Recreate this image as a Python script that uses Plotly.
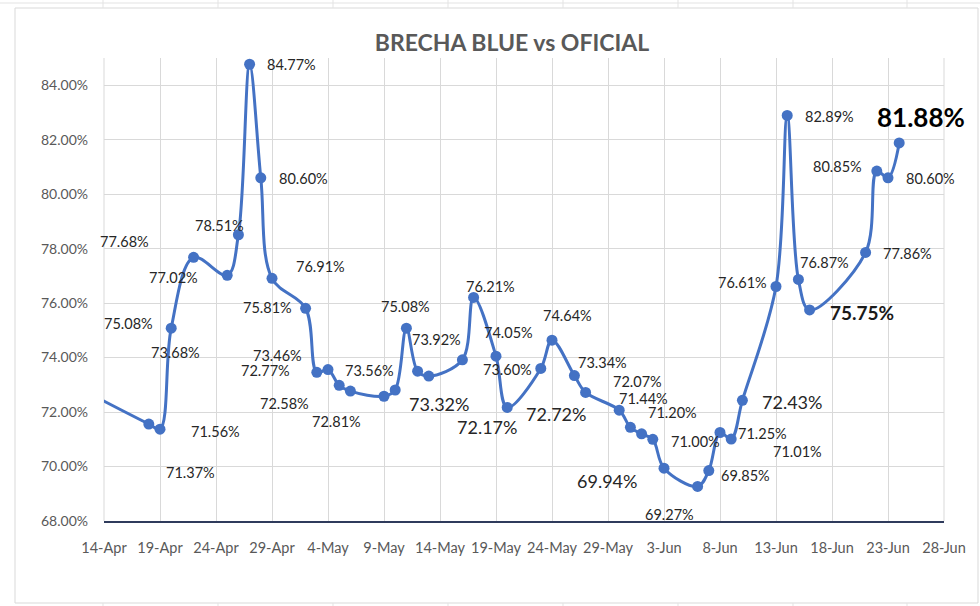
import pandas as pd
import plotly.graph_objects as go

# ---------------- data ----------------
dates = ["2022-04-08", "2022-04-18", "2022-04-19", "2022-04-20", "2022-04-22",
         "2022-04-25", "2022-04-26", "2022-04-27", "2022-04-28", "2022-04-29",
         "2022-05-02", "2022-05-03", "2022-05-04", "2022-05-05", "2022-05-06",
         "2022-05-09", "2022-05-10", "2022-05-11", "2022-05-12", "2022-05-13",
         "2022-05-16", "2022-05-17", "2022-05-19", "2022-05-20", "2022-05-23",
         "2022-05-24", "2022-05-26", "2022-05-27", "2022-05-30", "2022-05-31",
         "2022-06-01", "2022-06-02", "2022-06-03", "2022-06-06", "2022-06-07",
         "2022-06-08", "2022-06-09", "2022-06-10", "2022-06-13", "2022-06-14",
         "2022-06-15", "2022-06-16", "2022-06-21", "2022-06-22", "2022-06-23",
         "2022-06-24"]
brecha = [73.68, 71.56, 71.37, 75.08, 77.68,
          77.02, 78.51, 84.77, 80.60, 76.91,
          75.81, 73.46, 73.56, 72.98, 72.77,
          72.58, 72.81, 75.08, 73.50, 73.32,
          73.92, 76.21, 74.05, 72.17, 73.60,
          74.64, 73.34, 72.72, 72.07, 71.44,
          71.20, 71.00, 69.94, 69.27, 69.85,
          71.25, 71.01, 72.43, 76.61, 82.89,
          76.87, 75.75, 77.86, 80.85, 80.60,
          81.88]
labelled = [True, True, True, True, True,
            True, True, True, True, True,
            True, True, True, False, True,
            True, True, True, False, True,
            True, True, True, True, True,
            True, True, True, True, True,
            True, True, True, True, True,
            True, True, True, True, True,
            True, True, True, True, True,
            True]
x_start, x_end = "2022-04-14", "2022-06-28"
y_min, y_max = 68, 85
title_text = "BRECHA BLUE vs OFICIAL"

# ---------------- layout geometry (pixels) ----------------
W, H = 980, 606
L, R, T, B = 104, 944, 58, 521   # plot area edges in pixels

# label centres (pixels) in the same order as the data points
label_px = [(175, 352), (215, 431), (190, 472), (128, 323), (124, 241),
            (173, 277), (219, 225), (291, 64), (303, 178), (320, 266),
            (267, 307), (277, 355), (369, 370), None, (265, 370),
            (284, 403), (336, 421), (405, 306), None, (439, 404),
            (436, 339), (490, 286), (508, 332), (487, 427), (507, 369),
            (567, 315), (602, 362), (556, 414), (637, 381), (643, 398),
            (672, 412), (695, 441), (607, 481), (669, 514), (745, 475),
            (762, 433), (797, 451), (792, 402), (742, 282), (829, 116),
            (824, 262), (862, 312), (907, 253), (837, 166), (930, 178),
            (921, 117)]

big_regular = {"73.32", "72.17", "72.72", "69.94", "72.43"}
big_bold = {"75.75"}
huge_bold = {"81.88"}

x0 = pd.Timestamp(x_start)
x1 = pd.Timestamp(x_end)
span_days = (x1 - x0) / pd.Timedelta(days=1)


def px_to_data(px, py):
    d = x0 + pd.Timedelta(days=(px - L) / (R - L) * span_days)
    v = y_min + (B - py) / (B - T) * (y_max - y_min)
    return d, v


def px_to_paper(px, py):
    return (px - L) / (R - L), (B - py) / (B - T)


FONT = "Lato"
fig = go.Figure()
fig.add_trace(go.Scatter(
    x=pd.to_datetime(dates), y=brecha, mode="lines+markers",
    line=dict(color="#4472C4", width=3, shape="spline", smoothing=1.0),
    marker=dict(color="#4472C4", size=11),
    hoverinfo="skip", showlegend=False, cliponaxis=True))

annotations = []
for v, show, pos in zip(brecha, labelled, label_px):
    if not show or pos is None:
        continue
    txt = f"{v:.2f}"
    d, yv = px_to_data(*pos)
    if txt in huge_bold:
        f = dict(family=FONT, size=26, color="#000000", weight="bold")
    elif txt in big_bold:
        f = dict(family=FONT, size=19, color="#1a1a1a", weight="bold")
    elif txt in big_regular:
        f = dict(family=FONT, size=18, color="#262626")
    else:
        f = dict(family=FONT, size=14.5, color="#262626")
    annotations.append(dict(x=d, y=yv, xref="x", yref="y", text=txt + "%",
                            showarrow=False, font=f,
                            xanchor="center", yanchor="middle"))

shapes = []
# chart-area border
bx0, by0 = px_to_paper(15, 8)
bx1, by1 = px_to_paper(978, 603)
shapes.append(dict(type="rect", xref="paper", yref="paper",
                   x0=bx0, y0=by1, x1=bx1, y1=by0,
                   line=dict(color="#d9d9d9", width=1), layer="below"))
# plot-area edge gridlines (first and last date)
for xe in (0, 1):
    shapes.append(dict(type="line", xref="paper", yref="paper", x0=xe, x1=xe,
                       y0=0, y1=1, line=dict(color="#d9d9d9", width=1),
                       layer="below"))
# spreadsheet cell lines outside the chart
hx0, hy = px_to_paper(0, 3)
hx1, _ = px_to_paper(980, 3)
shapes.append(dict(type="line", xref="paper", yref="paper", x0=hx0, x1=hx1,
                   y0=hy, y1=hy, line=dict(color="#e3e3e3", width=1)))
for cx in [103, 218, 333, 448, 563, 678, 793, 907]:
    ax, ay0 = px_to_paper(cx, 0)
    _, ay1 = px_to_paper(cx, 8)
    shapes.append(dict(type="line", xref="paper", yref="paper", x0=ax, x1=ax,
                       y0=ay0, y1=ay1, line=dict(color="#e3e3e3", width=1)))
    _, by_0 = px_to_paper(cx, 603)
    _, by_1 = px_to_paper(cx, 606)
    shapes.append(dict(type="line", xref="paper", yref="paper", x0=ax, x1=ax,
                       y0=by_0, y1=by_1, line=dict(color="#e3e3e3", width=1)))

fig.update_layout(
    width=W, height=H,
    margin=dict(l=L, r=W - R, t=T, b=H - B, pad=0),
    paper_bgcolor="white", plot_bgcolor="white",
    title=dict(text=title_text, x=512 / W, xref="container", xanchor="center",
               y=1 - 43 / H, yref="container", yanchor="middle",
               font=dict(family=FONT, size=23, color="#595959", weight="bold")),
    xaxis=dict(type="date", range=[x0, x1], tick0=x_start,
               dtick=5 * 86400000, tickformat="%-d-%b",
               showgrid=True, gridcolor="#d9d9d9", gridwidth=1,
               showline=True, linecolor="#2F3B5C", linewidth=1.5,
               zeroline=False, ticks="", ticklabelstandoff=13,
               tickfont=dict(family=FONT, size=14.5, color="#595959")),
    yaxis=dict(range=[y_min, y_max], tick0=y_min, dtick=2,
               tickformat=".2f", ticksuffix="%",
               showgrid=True, gridcolor="#d9d9d9", gridwidth=1,
               showline=False, zeroline=False, ticks="",
               ticklabelstandoff=15,
               tickfont=dict(family=FONT, size=14, color="#595959")),
    annotations=annotations,
    shapes=shapes,
)

fig.write_html("out.html")
